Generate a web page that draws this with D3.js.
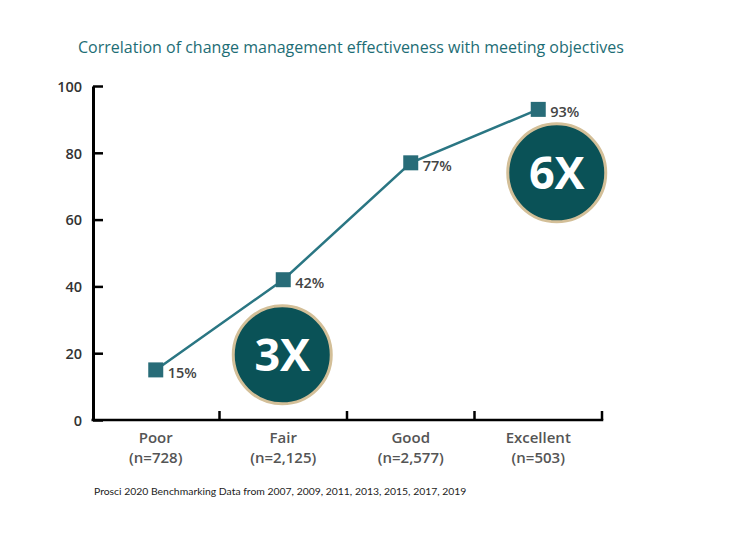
<!DOCTYPE html>
<html>
<head>
<meta charset="utf-8">
<script src="https://cdn.jsdelivr.net/npm/d3@7"></script>
<style>
  html, body { margin: 0; padding: 0; background: #fff; }
  svg { display: block; }
</style>
</head>
<body>
<svg id="chart" width="743" height="536"></svg>
<script>
const categories = ["Poor", "Fair", "Good", "Excellent"];
const sampleSizes = ["(n=728)", "(n=2,125)", "(n=2,577)", "(n=503)"];
const values = [15, 42, 77, 93];
const yTicks = [0, 20, 40, 60, 80, 100];
const multipliers = ["3X", "6X"];
const multiplierCategory = ["Fair", "Excellent"];
const multiplierValue = [19.5, 74];
const title = "Correlation of change management effectiveness with meeting objectives";
const footnote = "Prosci 2020 Benchmarking Data from 2007, 2009, 2011, 2013, 2015, 2017, 2019";

(function () {
const svg = d3.select("#chart");
const mLeft = 92, mRight = 602, mTop = 86, mBottom = 420;
const axisX = 93;

const x = d3.scaleBand().domain(categories).range([mLeft, mRight]).padding(0);
const y = d3.scaleLinear().domain([0, 100]).range([mBottom, mTop]);

// Title
svg.append("text")
  .attr("x", 78).attr("y", 53)
  .attr("font-family", "'Open Sans', sans-serif")
  .attr("font-size", 16)
  .attr("fill", "#1d6d75")
  .text(title);

// Y axis
const yAxis = d3.axisRight(y).tickValues(yTicks).tickSize(10).tickSizeOuter(0);
const gy = svg.append("g").attr("transform", `translate(${axisX},0)`).call(yAxis);
gy.select(".domain").attr("stroke", "#000").attr("stroke-width", 3);
gy.selectAll(".tick line").attr("stroke", "#000").attr("stroke-width", 2.5);
gy.selectAll(".tick text")
  .attr("x", -11).attr("text-anchor", "end").attr("dy", "0.36em")
  .attr("font-family", "'Open Sans', sans-serif")
  .attr("font-size", 14.5).attr("font-weight", 600)
  .attr("fill", "#333");

// X axis
const gx = svg.append("g").attr("transform", `translate(0,${mBottom})`);
gx.append("line").attr("x1", axisX - 1.5).attr("x2", mRight + 1.25)
  .attr("stroke", "#000").attr("stroke-width", 2.5);
gx.selectAll("line.tick").data(categories).join("line")
  .attr("class", "tick")
  .attr("x1", d => x(d) + x.bandwidth()).attr("x2", d => x(d) + x.bandwidth())
  .attr("y1", 0).attr("y2", -9)
  .attr("stroke", "#000").attr("stroke-width", 2.5);
const labels = gx.selectAll("text.cat").data(categories).join("text")
  .attr("class", "cat")
  .attr("text-anchor", "middle")
  .attr("font-family", "'Open Sans', sans-serif")
  .attr("font-size", 15).attr("font-weight", 600)
  .attr("fill", "#555");
labels.append("tspan").attr("x", d => x(d) + x.bandwidth() / 2).attr("y", 23).text(d => d);
labels.append("tspan").attr("x", d => x(d) + x.bandwidth() / 2).attr("y", 43).text((d, i) => sampleSizes[i]);

// Line
const data = categories.map((c, i) => ({ c, v: values[i] }));
const line = d3.line().x(d => x(d.c) + x.bandwidth() / 2).y(d => y(d.v));
svg.append("path").datum(data)
  .attr("d", line).attr("fill", "none")
  .attr("stroke", "#2a7683").attr("stroke-width", 2.5);

// Markers
const ms = 15;
svg.selectAll("rect.marker").data(data).join("rect")
  .attr("class", "marker")
  .attr("x", d => x(d.c) + x.bandwidth() / 2 - ms / 2)
  .attr("y", d => y(d.v) - ms / 2)
  .attr("width", ms).attr("height", ms)
  .attr("fill", "#286c78");

svg.selectAll("text.val").data(data).join("text")
  .attr("class", "val")
  .attr("x", d => x(d.c) + x.bandwidth() / 2 + 12)
  .attr("y", d => y(d.v) + 8)
  .attr("font-family", "'Open Sans', sans-serif")
  .attr("font-size", 14.5).attr("font-weight", 600)
  .attr("fill", "#444")
  .text(d => d.v + "%");

// Multiplier circles
const ann = multipliers.map((m, i) => ({ m, c: multiplierCategory[i], v: multiplierValue[i] }));
const offsets = [-1, 18.5];
const ag = svg.selectAll("g.ann").data(ann).join("g")
  .attr("class", "ann")
  .attr("transform", (d, i) => `translate(${x(d.c) + x.bandwidth() / 2 + offsets[i]},${y(d.v)})`);
ag.append("circle").attr("r", 49)
  .attr("fill", "#0a5257").attr("stroke", "#d3bf98").attr("stroke-width", 3);
ag.append("text")
  .attr("text-anchor", "middle").attr("y", 16)
  .attr("font-family", "'Open Sans', sans-serif")
  .attr("font-size", 45).attr("font-weight", 700)
  .attr("fill", "#fff")
  .text(d => d.m);

// Footnote
svg.append("text")
  .attr("x", 94).attr("y", 495)
  .attr("font-family", "Lato, sans-serif")
  .attr("font-size", 10.4)
  .attr("fill", "#222")
  .text(footnote);
})();
</script>
</body>
</html>
